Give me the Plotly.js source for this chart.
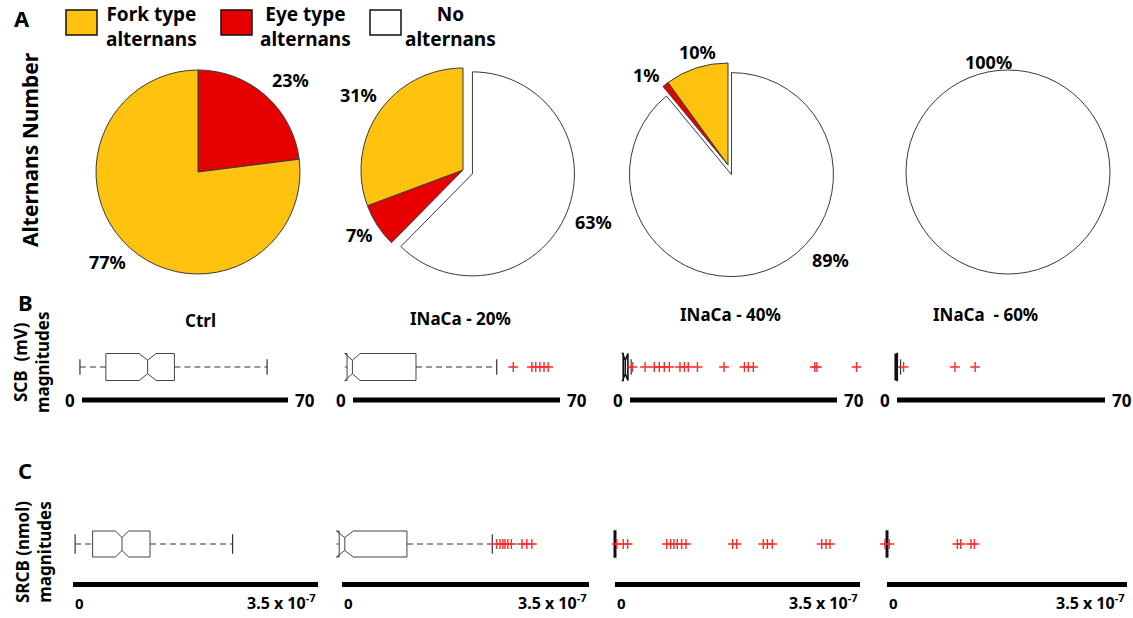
<!DOCTYPE html>
<html><head><meta charset="utf-8">
<script src="https://cdn.plot.ly/plotly-3.0.1.min.js"></script>
<style>html,body{margin:0;padding:0;background:#fff}#chart{width:1133px;height:618px}</style>
</head><body><div id="chart"></div>
<script>
// ---------------- DATA ----------------
const categories = ['Fork type alternans', 'Eye type alternans', 'No alternans'];
const conditions = ['Ctrl', 'INaCa - 20%', 'INaCa - 40%', 'INaCa  - 60%'];
// percentage of alternans type per condition
const forkPct = [77, 31, 10, 0];
const eyePct = [23, 7, 1, 0];
const noPct = [0, 63, 89, 100];

// SCB (mV) magnitudes box statistics per condition
const scbQ1 = [8.1, -2.0, -2.3, -0.6];
const scbMedian = [22.3, -0.2, -1.6, -0.3];
const scbQ3 = [31.4, 21.3, -0.7, 0.1];
const scbLower = [-0.7, -2.0, -2.3, -0.6];
const scbUpper = [62.9, 48.6, 0.4, 1.2];
const scbNotch = [2.9, 2.6, 0.9, 0.3];
const scbOutliers = [
  [],
  [54.2, 60.5, 61.8, 63.2, 64.6, 66.0],
  [0.8, 5.1, 8.2, 9.9, 11.6, 13.3, 16.9, 18.4, 19.7, 22.8, 31.8, 38.7, 40.0, 41.7, 62.5, 63.2, 76.6],
  [2.2, 19.5, 26.3]
];
const scbMax = 70;

// SRCB (nmol) magnitudes box statistics per condition
const srcbQ1 = [0.28e-7, -0.04e-7, -0.01e-7, -0.01e-7];
const srcbMedian = [0.70e-7, 0.04e-7, 0.0, 0.0];
const srcbQ3 = [1.10e-7, 0.92e-7, 0.01e-7, 0.01e-7];
const srcbLower = [0.03e-7, -0.04e-7, -0.01e-7, -0.01e-7];
const srcbUpper = [2.28e-7, 2.13e-7, 0.01e-7, 0.01e-7];
const srcbNotch = [0.095e-7, 0.12e-7, 0.005e-7, 0.005e-7];
const srcbOutliers = [
  [],
  [2.19e-7, 2.24e-7, 2.28e-7, 2.31e-7, 2.35e-7, 2.40e-7, 2.55e-7, 2.62e-7, 2.69e-7],
  [0.024e-7, 0.118e-7, 0.181e-7, 0.739e-7, 0.796e-7, 0.843e-7, 0.890e-7, 0.953e-7, 1.014e-7,
   1.681e-7, 1.739e-7, 2.119e-7, 2.176e-7, 2.247e-7, 2.953e-7, 3.014e-7, 3.071e-7],
  [-0.03e-7, 0.034e-7, 1.026e-7, 1.075e-7, 1.225e-7, 1.274e-7]
];
const srcbMax = 3.5e-7;

// ---------------- LAYOUT / STYLE ----------------
const W = 1133, H = 618;
const FONT = 'Noto Sans, Open Sans, DejaVu Sans, sans-serif';
const px = v => v / W;
const py = v => 1 - v / H;
const colors = {'Fork type alternans': '#FFC20E', 'Eye type alternans': '#E60000', 'No alternans': '#FFFFFF'};

const pieGeom = [
  {cx: 198, cy: 172, r: 102, pull: 0},
  {cx: 463, cy: 170, r: 102, pull: 0.1},
  {cx: 728, cy: 165, r: 102, pull: 0.1},
  {cx: 1008, cy: 172, r: 102, pull: 0}
];
// label positions (px) for [Fork, Eye, No] per pie
const pieLabelPos = [
  [[107, 262], [290, 80], null],
  [[358, 95], [359, 235], [593, 222]],
  [[697, 52], [646, 75], [831, 260]],
  [null, null, [988, 62]]
];

const rowB = {top: 340, bottom: 410, center: 367, lineY: 400, boxH: 27, capH: 11,
  lines: [[82, 288], [353, 560], [630, 837], [897, 1105]], padL: 20, padR: 28};
const rowC = {top: 515, bottom: 597, center: 544, lineY: 584.5, boxH: 26, capH: 14,
  lines: [[73, 318], [342, 589], [615, 860], [887, 1127]], padL: 12, padR: 6};
const titlePos = [[200, 320], [460, 318], [730, 314], [985, 314]];

const data = [];
const annotations = [];
const shapes = [];
const layout = {
  width: W, height: H, margin: {l: 0, r: 0, t: 0, b: 0},
  paper_bgcolor: '#fff', plot_bgcolor: 'rgba(0,0,0,0)', showlegend: false,
  font: {family: FONT, color: '#000'}
};

// ---- pies ----
const pieVals = [forkPct, eyePct, noPct];
for (let i = 0; i < 4; i++) {
  const g = pieGeom[i];
  // clockwise from 12 o'clock: No, Eye, Fork
  const order = [2, 1, 0];
  const labels = [], values = [], cols = [], pulls = [];
  order.forEach(c => {
    const v = pieVals[c][i];
    if (v > 0) { labels.push(categories[c]); values.push(v); cols.push(colors[categories[c]]); pulls.push(c === 2 ? g.pull : 0); }
  });
  const half = g.r * (1 + g.pull);
  data.push({
    type: 'pie', labels: labels, values: values, sort: false, direction: 'clockwise', rotation: 0,
    pull: pulls, marker: {colors: cols, line: {color: '#3a3a3a', width: 1}},
    textinfo: 'none', hoverinfo: 'skip', showlegend: false,
    domain: {x: [px(g.cx - half), px(g.cx + half)], y: [py(g.cy + half), py(g.cy - half)]}
  });
  [0, 1, 2].forEach(c => {
    const p = pieLabelPos[i][c];
    const v = pieVals[c][i];
    if (p && v > 0) annotations.push({xref: 'paper', yref: 'paper', x: px(p[0]), y: py(p[1]),
      text: '<b>' + v + '%</b>', showarrow: false, xanchor: 'center', yanchor: 'middle',
      font: {size: 18, family: FONT, color: '#000'}});
  });
}

// ---- box rows ----
function buildRow(row, stats, vmax, startIdx, isB) {
  for (let i = 0; i < 4; i++) {
    const k = startIdx + i;
    const xa = 'xaxis' + (k === 1 ? '' : k), ya = 'yaxis' + (k === 1 ? '' : k);
    const xr = 'x' + (k === 1 ? '' : k), yr = 'y' + (k === 1 ? '' : k);
    const [L, R] = row.lines[i];
    const s = (R - L) / vmax;
    layout[xa] = {domain: [px(L - row.padL), px(R + row.padR)], range: [-row.padL / s, vmax + row.padR / s],
      visible: false, anchor: yr, fixedrange: true};
    layout[ya] = {domain: [py(row.bottom), py(row.top)], range: [row.center - row.bottom, row.center - row.top],
      visible: false, anchor: xr, fixedrange: true};
    const q1 = stats.q1[i], m = stats.med[i], q3 = stats.q3[i], lf = stats.lo[i], uf = stats.up[i];
    const tiny = (q3 - q1) * s < 8;
    const boxColor = tiny ? '#111' : '#444';
    // whiskers (dashed)
    const wx = [], wy = [];
    if (lf < q1) { wx.push(lf, q1, null); wy.push(0, 0, null); }
    if (uf > q3) { wx.push(q3, uf); wy.push(0, 0); }
    if (wx.length) data.push({type: 'scatter', mode: 'lines', x: wx, y: wy, xaxis: xr, yaxis: yr,
      line: {color: '#333', width: 1, dash: '6px,4px'}, hoverinfo: 'skip', showlegend: false});
    // box
    data.push({type: 'box', orientation: 'h', y: [0], q1: [q1], median: [m], q3: [q3],
      lowerfence: [q1], upperfence: [q3], notched: true, notchspan: [stats.ns[i]], notchwidth: 0.25,
      width: row.boxH, whiskerwidth: 0, boxpoints: false, fillcolor: '#ffffff',
      line: {color: boxColor, width: tiny ? 1.6 : 1}, xaxis: xr, yaxis: yr, hoverinfo: 'skip', showlegend: false});
    // caps
    const cx = [];
    if (lf < q1) cx.push(lf);
    if (uf > q3) cx.push(uf);
    if (cx.length) data.push({type: 'scatter', mode: 'markers', x: cx, y: cx.map(() => 0), xaxis: xr, yaxis: yr,
      marker: {symbol: 'line-ns', size: row.capH, line: {color: '#333', width: 1.2}}, cliponaxis: false,
      hoverinfo: 'skip', showlegend: false});
    // outliers
    const o = stats.out[i];
    if (o.length) data.push({type: 'scatter', mode: 'markers', x: o, y: o.map(() => 0), xaxis: xr, yaxis: yr,
      marker: {symbol: 'cross-thin', size: 7, color: '#FF2A2A', line: {color: '#FF2A2A', width: 1.4}},
      cliponaxis: false, hoverinfo: 'skip', showlegend: false});
    // thick scale line
    const ly = row.center - row.lineY;
    shapes.push({type: 'line', xref: xr, yref: yr, x0: 0, x1: vmax, y0: ly, y1: ly,
      line: {color: '#000', width: 5}});
    if (isB) {
      annotations.push({xref: xr, yref: yr, x: 0, y: ly, text: '<b>0</b>', showarrow: false,
        xanchor: 'right', yanchor: 'middle', xshift: -5, font: {size: 17, family: FONT}});
      annotations.push({xref: xr, yref: yr, x: vmax, y: ly, text: '<b>' + vmax + '</b>', showarrow: false,
        xanchor: 'left', yanchor: 'middle', xshift: 5, font: {size: 17, family: FONT}});
    } else {
      const mant = (vmax / 1e-7).toFixed(1);
      annotations.push({xref: xr, yref: yr, x: 0, y: ly, text: '<b>0</b>', showarrow: false,
        xanchor: 'left', yanchor: 'top', yshift: -6, font: {size: 15, family: FONT}});
      annotations.push({xref: xr, yref: yr, x: vmax, y: ly, text: '<b>' + mant + ' x 10<sup>-7</sup></b>', showarrow: false,
        xanchor: 'right', yanchor: 'top', yshift: -3, font: {size: 16, family: FONT}});
    }
  }
}
buildRow(rowB, {q1: scbQ1, med: scbMedian, q3: scbQ3, lo: scbLower, up: scbUpper, ns: scbNotch, out: scbOutliers}, scbMax, 1, true);
buildRow(rowC, {q1: srcbQ1, med: srcbMedian, q3: srcbQ3, lo: srcbLower, up: srcbUpper, ns: srcbNotch, out: srcbOutliers}, srcbMax, 5, false);

// condition titles
conditions.forEach((c, i) => annotations.push({xref: 'paper', yref: 'paper', x: px(titlePos[i][0]), y: py(titlePos[i][1]),
  text: '<b>' + c + '</b>', showarrow: false, xanchor: 'center', yanchor: 'middle', font: {size: 17, family: FONT}}));

// legend
const legendBoxes = [[66, 97], [221, 252], [370, 401]];
const legendText = ['Fork type<br>alternans', 'Eye type<br>alternans', 'No<br>alternans'];
const legendTextX = [151, 305, 450];
categories.forEach((c, i) => {
  shapes.push({type: 'rect', xref: 'paper', yref: 'paper', x0: px(legendBoxes[i][0]), x1: px(legendBoxes[i][1]),
    y0: py(35), y1: py(10), fillcolor: colors[c], line: {color: '#111', width: 1.5}});
  annotations.push({xref: 'paper', yref: 'paper', x: px(legendTextX[i]), y: py(27), text: '<b>' + legendText[i].replace('<br>', '</b><br><b>') + '</b>',
    showarrow: false, xanchor: 'center', yanchor: 'middle', align: 'center', font: {size: 19, family: FONT}});
});

// panel letters & row labels
[['A', 22, 18], ['B', 25, 302], ['C', 25, 470]].forEach(a => annotations.push({xref: 'paper', yref: 'paper',
  x: px(a[1]), y: py(a[2]), text: '<b>' + a[0] + '</b>', showarrow: false, xanchor: 'center', yanchor: 'middle',
  font: {size: 22, family: FONT}}));
[['<b>Alternans Number</b>', 30, 150, 21], ['<b>SCB  (mV)</b><br><b>magnitudes</b>', 31, 362, 17],
 ['<b>SRCB (nmol)</b><br><b>magnitudes</b>', 33, 552, 17]].forEach(a => annotations.push({xref: 'paper', yref: 'paper',
  x: px(a[1]), y: py(a[2]), text: a[0], textangle: -90, showarrow: false, xanchor: 'center', yanchor: 'middle',
  align: 'center', font: {size: a[3], family: FONT}}));

layout.annotations = annotations;
layout.shapes = shapes;
Plotly.newPlot('chart', data, layout, {staticPlot: true, displayModeBar: false});
</script></body></html>
